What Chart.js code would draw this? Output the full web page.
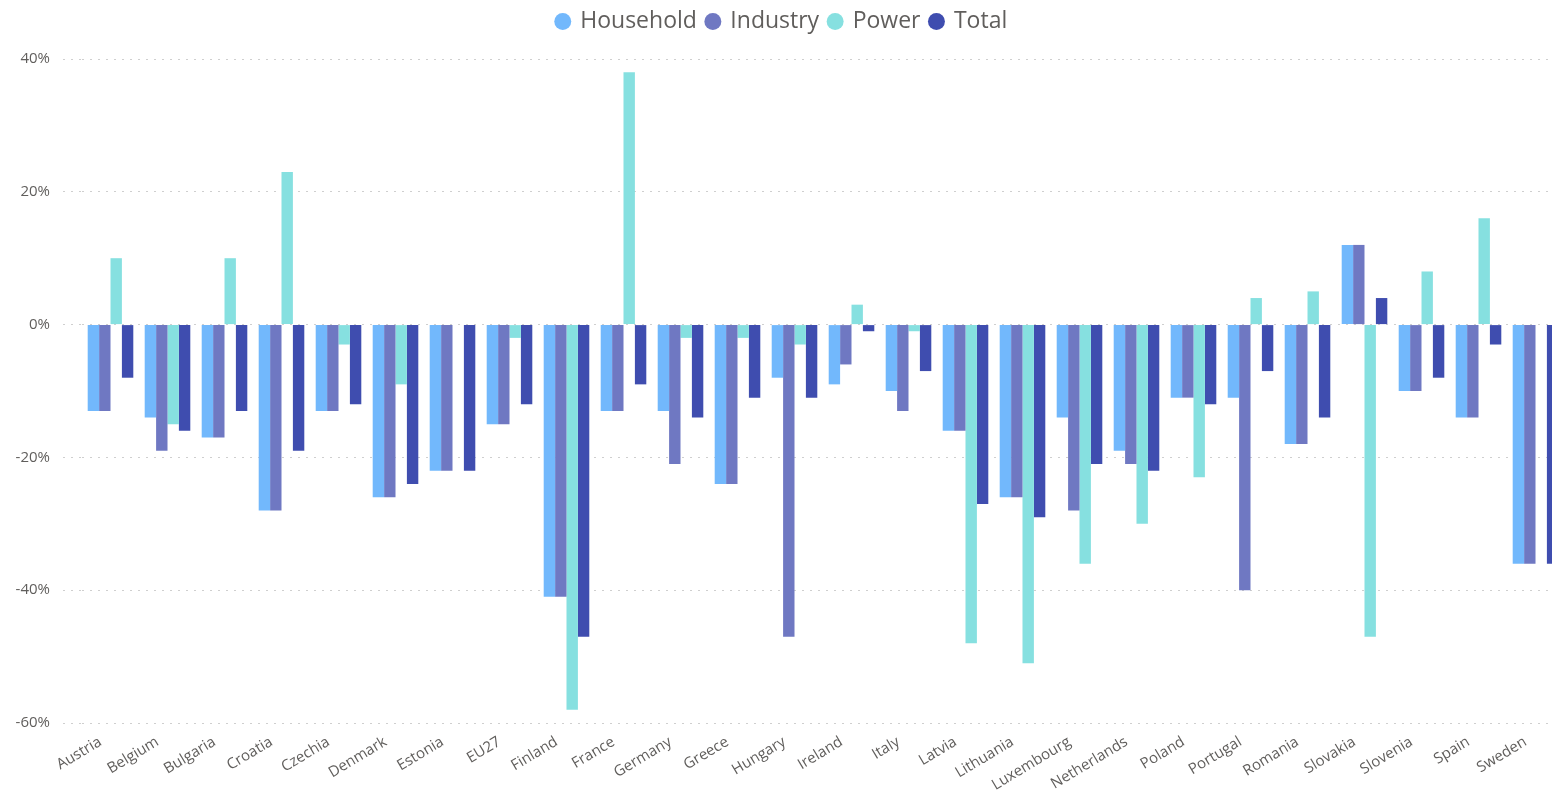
<!DOCTYPE html>
<html>
<head>
<meta charset="utf-8">
<script src="https://cdn.jsdelivr.net/npm/chart.js@4.4.1/dist/chart.umd.min.js"></script>
<style>
    html, body { margin: 0; padding: 0; background: #fff; overflow: hidden; }
    #wrap { width: 1568px; height: 800px; }
</style>
</head>
<body>
<div id="wrap"><canvas id="chart"></canvas></div>
<script>
// Dữ liệu (đơn vị %)
const countries = ['Austria', 'Belgium', 'Bulgaria', 'Croatia', 'Czechia', 'Denmark', 'Estonia', 'EU27',
    'Finland', 'France', 'Germany', 'Greece', 'Hungary', 'Ireland', 'Italy', 'Latvia', 'Lithuania',
    'Luxembourg', 'Netherlands', 'Poland', 'Portugal', 'Romania', 'Slovakia', 'Slovenia', 'Spain', 'Sweden'];

const household = [-13, -14, -17, -28, -13, -26, -22, -15, -41, -13, -13, -24, -8, -9, -10, -16, -26, -14, -19, -11, -11, -18, 12, -10, -14, -36];
const industry  = [-13, -19, -17, -28, -13, -26, -22, -15, -41, -13, -21, -24, -47, -6, -13, -16, -26, -28, -21, -11, -40, -18, 12, -10, -14, -36];
const power     = [10, -15, 10, 23, -3, -9, 0, -2, -58, 38, -2, -2, -3, 3, -1, -48, -51, -36, -30, -23, 4, 5, -47, 8, 16, 0];
const total     = [-8, -16, -13, -19, -12, -24, -22, -12, -47, -9, -14, -11, -11, -1, -7, -27, -29, -21, -22, -12, -7, -14, 4, -8, -3, -36];

const yTicks = [-60, -40, -20, 0, 20, 40];

const colors = {
    household: '#72B8FC',
    industry: '#6F78C2',
    power: '#86E0E0',
    total: '#3F4DAF'
};

const textColor = '#605E5C';
const gridColor = '#CFCFCF';
const fontFamily = '"Segoe UI", "Open Sans", "Noto Sans", sans-serif';

function makeSet(label, data, color) {
    return {
        label: label,
        data: data,
        backgroundColor: color,
        borderWidth: 0,
        categoryPercentage: 0.8,
        barPercentage: 1.0
    };
}

// Thêm khoảng trống dưới chú giải để vùng vẽ bắt đầu thấp hơn
const legendSpace = {
    id: 'legendSpace',
    beforeInit(chart) {
        const origFit = chart.legend.fit;
        chart.legend.fit = function () {
            origFit.bind(chart.legend)();
            this.height += 16;
        };
    }
};

const ctx = document.getElementById('chart').getContext('2d');

new Chart(ctx, {
    type: 'bar',
    data: {
        labels: countries,
        datasets: [
            makeSet('Household', household, colors.household),
            makeSet('Industry', industry, colors.industry),
            makeSet('Power', power, colors.power),
            makeSet('Total', total, colors.total)
        ]
    },
    plugins: [legendSpace],
    options: {
        responsive: true,
        maintainAspectRatio: false,
        animation: false,
        layout: { padding: { top: 0, right: 4, bottom: 0, left: 0 } },
        plugins: {
            legend: {
                position: 'top',
                align: 'center',
                labels: {
                    usePointStyle: true,
                    pointStyle: 'circle',
                    boxWidth: 12,
                    boxHeight: 12,
                    padding: 10,
                    color: textColor,
                    font: { family: fontFamily, size: 23 }
                }
            },
            tooltip: { enabled: false }
        },
        scales: {
            x: {
                grid: { display: false },
                border: { display: false },
                ticks: {
                    color: textColor,
                    font: { family: fontFamily, size: 15 },
                    minRotation: 31,
                    maxRotation: 31,
                    autoSkip: false,
                    labelOffset: -10,
                    padding: 2
                },
                afterFit: (scale) => { scale.height = 77; }
            },
            y: {
                min: -60,
                max: 40,
                border: { display: false, dash: [2, 6] },
                grid: {
                    color: gridColor,
                    lineWidth: 1,
                    drawTicks: true,
                    tickLength: 19,
                    tickColor: gridColor,
                    tickBorderDash: [2, 6]
                },
                afterBuildTicks: (scale) => {
                    scale.ticks = yTicks.map(v => ({ value: v }));
                },
                ticks: {
                    color: textColor,
                    padding: 13,
                    font: { family: fontFamily, size: 15 },
                    callback: (v) => v + '%'
                },
                afterFit: (scale) => { scale.width = 82; }
            }
        }
    }
});
</script>
</body>
</html>
